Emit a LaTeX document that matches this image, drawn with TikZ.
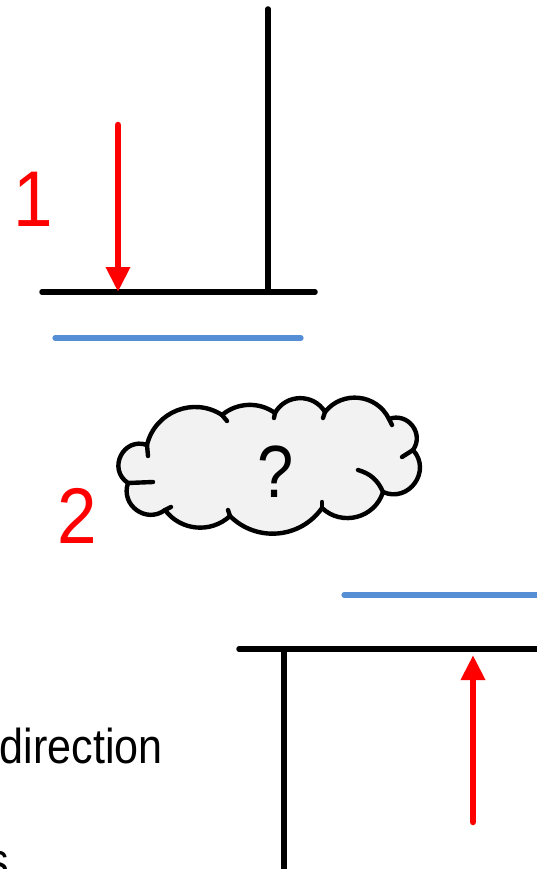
\documentclass[tikz,border=0pt]{standalone}
\usepackage{fontspec}
\setmainfont{Liberation Sans}
\usetikzlibrary{arrows.meta}
\definecolor{cloudfill}{RGB}{242,242,242}
\definecolor{lineblue}{RGB}{85,142,213}
\begin{document}
\begin{tikzpicture}[x=1pt,y=-1pt,
  blackline/.style={line width=5.5pt, line cap=round},
  blueline/.style={draw=lineblue, line width=5.2pt, line cap=round},
  redarrow/.style={draw=red, line width=6.5pt, line cap=round, -{Triangle[length=25pt,width=23pt]}},
  redlabel/.style={text=red, font=\fontsize{79}{80}\selectfont, inner sep=0pt, xscale=0.9},
  blacktext/.style={text=black, inner sep=0pt, xscale=0.88},
  cloudline/.style={line width=4.4pt, line cap=round, line join=round}]
\useasboundingbox (0,0) rectangle (537,869);
\clip (0,0) rectangle (537,869);

% top structure
\coordinate (topV1) at (268,9);
\coordinate (topV2) at (268,292);
\coordinate (topH1) at (42,292);
\coordinate (topH2) at (315,292);
\draw[blackline] (topV1) -- (topV2);
\draw[blackline] (topH1) -- (topH2);
\coordinate (blue1a) at (55,338);
\coordinate (blue1b) at (301,338);
\draw[blueline] (blue1a) -- (blue1b);
\coordinate (arr1s) at (118,125);
\coordinate (arr1e) at (118,292);
\draw[redarrow] (arr1s) -- (arr1e);
\node[redlabel, anchor=base] (one) at (33,226) {1};

% cloud
\coordinate (P0) at (147,445);
\coordinate (P1) at (222,415);
\coordinate (P2) at (275,413);
\coordinate (P3) at (325,412);
\coordinate (P4) at (389,419);
\coordinate (P5) at (413,450);
\coordinate (P6) at (383,492);
\coordinate (P7) at (322,508);
\coordinate (P8) at (230,516);
\coordinate (P9) at (165,510);
\coordinate (P10) at (128,483);
\filldraw[cloudline, fill=cloudfill]
  (P0) to[bend left=55, looseness=1.08] (P1)
  to[bend left=38, looseness=0.95] (P2)
  to[bend left=60, looseness=1.13] (P3)
  to[bend left=58, looseness=1.11] (P4)
  to[bend left=73, looseness=1.31] (P5)
  to[bend left=78, looseness=1.40] (P6)
  to[bend left=58, looseness=1.11] (P7)
  to[bend left=50, looseness=1.04] (P8)
  to[bend left=48, looseness=1.02] (P9)
  to[bend left=73, looseness=1.31] (P10)
  to[bend left=83, looseness=1.51] (P0) -- cycle;
\coordinate (S0) at (148,456);
\coordinate (S1) at (227,421);
\coordinate (S2) at (274,418);
\coordinate (S3) at (323,418);
\coordinate (S4) at (392,425);
\coordinate (S5) at (402,457);
\coordinate (S6) at (358,470);
\coordinate (S7) at (322,502);
\coordinate (S8) at (228,510);
\coordinate (S9) at (171,507);
\coordinate (S10) at (153,482);
\draw[cloudline] (P0) -- (S0);
\draw[cloudline] (P1) -- (S1);
\draw[cloudline] (P2) -- (S2);
\draw[cloudline] (P3) -- (S3);
\draw[cloudline] (P4) -- (S4);
\draw[cloudline] (P5) -- (S5);
\draw[cloudline] (P6) to[bend right=25] (S6);
\draw[cloudline] (P7) -- (S7);
\draw[cloudline] (P8) -- (S8);
\draw[cloudline] (P9) -- (S9);
\draw[cloudline] (P10) -- (S10);
\node[blacktext, anchor=base, font=\fontsize{74}{76}\selectfont] (q) at (276,497) {?};
\node[redlabel, anchor=base] (two) at (77,543) {2};

% bottom structure
\coordinate (blue2a) at (344,595);
\coordinate (blue2b) at (545,595);
\draw[blueline] (blue2a) -- (blue2b);
\coordinate (botH1) at (239,649);
\coordinate (botH2) at (545,649);
\coordinate (botV1) at (284,649);
\coordinate (botV2) at (284,880);
\draw[blackline] (botH1) -- (botH2);
\draw[blackline] (botV1) -- (botV2);
\coordinate (arr2s) at (473,822);
\coordinate (arr2e) at (473,655);
\draw[redarrow] (arr2s) -- (arr2e);

% text
\node[blacktext, anchor=base east, font=\fontsize{49}{52}\selectfont] (dir) at (163,763) {direction};
\node[blacktext, anchor=base east, font=\fontsize{49}{52}\selectfont] (ess) at (9,877) {s};
\end{tikzpicture}
\end{document}
